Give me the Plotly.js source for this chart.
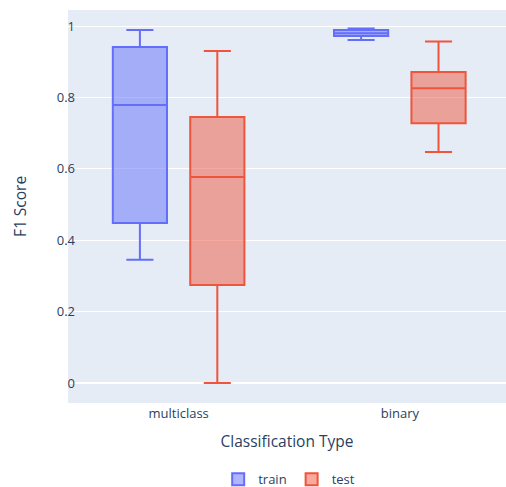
<!DOCTYPE html>
<html>
<head>
<meta charset="utf-8">
<script src="https://cdn.plot.ly/plotly-3.0.1.min.js"></script>
<style>html,body{margin:0;padding:0;background:#fff;}#chart{width:506px;height:487px;}</style>
</head>
<body>
<div id="chart"></div>
<script>
const categories = ["multiclass", "binary"];
const trainLower = [0.345, 0.961];
const trainQ1 = [0.448, 0.972];
const trainMedian = [0.779, 0.980];
const trainQ3 = [0.941, 0.989];
const trainUpper = [0.989, 0.993];
const testLower = [0.0, 0.647];
const testQ1 = [0.2745, 0.728];
const testMedian = [0.577, 0.826];
const testQ3 = [0.745, 0.871];
const testUpper = [0.930, 0.957];

const data = [
  {type: "box", name: "train", x: categories, q1: trainQ1, median: trainMedian, q3: trainQ3,
   lowerfence: trainLower, upperfence: trainUpper, marker: {color: "#636efa"}, line: {color: "#636efa"}},
  {type: "box", name: "test", x: categories, q1: testQ1, median: testMedian, q3: testQ3,
   lowerfence: testLower, upperfence: testUpper, marker: {color: "#EF553B"}, line: {color: "#EF553B"}}
];

const layout = {
  width: 506, height: 487,
  margin: {l: 68, r: 0, t: 10, b: 84},
  boxmode: "group",
  paper_bgcolor: "#ffffff",
  plot_bgcolor: "#E5ECF6",
  font: {family: "'Open Sans', verdana, arial, sans-serif", size: 13, color: "#2a3f5f"},
  xaxis: {title: {text: "Classification Type", standoff: 15, font: {size: 15.5}}, automargin: true, ticklabelstandoff: 1,
          range: [-0.5, 1.48], showgrid: false, zeroline: false},
  yaxis: {title: {text: "F1 Score", standoff: 26, font: {size: 15.5}}, automargin: true, ticklabelstandoff: -8,
          range: [-0.056, 1.045], gridcolor: "white", zerolinecolor: "white", zerolinewidth: 2, dtick: 0.2},
  legend: {orientation: "h", x: 0.505, xanchor: "center", yref: "container", y: 0.016, yanchor: "middle", font: {size: 13}},
  showlegend: true
};

Plotly.newPlot("chart", data, layout, {displayModeBar: false});
</script>
</body>
</html>
